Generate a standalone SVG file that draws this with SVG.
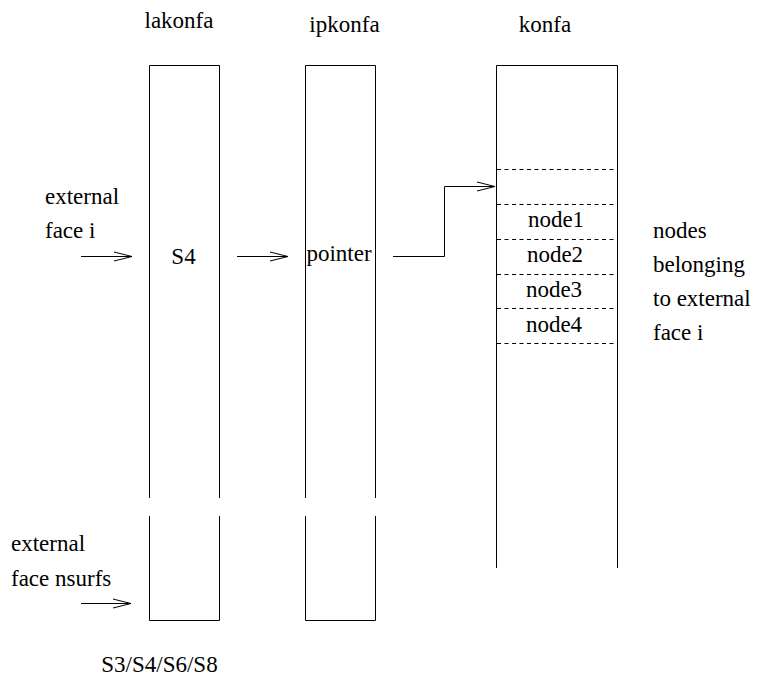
<svg xmlns="http://www.w3.org/2000/svg" width="760" height="681" viewBox="0 0 760 681">
<style>
  .col { fill: none; stroke: #000; stroke-width: 1; }
  .dash { stroke: #000; stroke-width: 1; stroke-dasharray: 4 3.5; }
  .conn { fill: none; stroke: #000; stroke-width: 1; }
</style>
<defs>
  <marker id="arr" markerUnits="userSpaceOnUse" markerWidth="24" markerHeight="14" viewBox="-20 -7 24 14" refX="0" refY="0" orient="auto">
    <path d="M-18,-4.5 L0,0 L-18,4.5" fill="none" stroke="#000" stroke-width="1"/>
  </marker>
</defs>
<rect width="760" height="681" fill="#fff"/>

<g id="lakonfa">
  <text x="179" y="28" text-anchor="middle" font-family="Liberation Serif, serif" font-size="23">lakonfa</text>
  <path class="col" d="M149.5,498 V65.5 H219.5 V498 M149.5,516 V620.5 H219.5 V516"/>
  <text x="183.5" y="264" text-anchor="middle" font-family="Liberation Serif, serif" font-size="23">S4</text>
  <text x="159.5" y="672" text-anchor="middle" font-family="Liberation Serif, serif" font-size="23">S3/S4/S6/S8</text>
</g>

<g id="ipkonfa">
  <text x="344.5" y="32" text-anchor="middle" font-family="Liberation Serif, serif" font-size="23">ipkonfa</text>
  <path class="col" d="M305.5,498 V65.5 H375.5 V498 M305.5,516 V620.5 H375.5 V516"/>
  <text x="339" y="261" text-anchor="middle" font-family="Liberation Serif, serif" font-size="23">pointer</text>
</g>

<g id="konfa">
  <text x="545" y="32" text-anchor="middle" font-family="Liberation Serif, serif" font-size="23">konfa</text>
  <path class="col" d="M496.5,568 V65.5 H617.5 V568"/>
  <line class="dash" x1="497" y1="169.5" x2="617" y2="169.5"/>
  <line class="dash" x1="497" y1="204.5" x2="617" y2="204.5"/>
  <line class="dash" x1="497" y1="239.5" x2="617" y2="239.5"/>
  <line class="dash" x1="497" y1="274.5" x2="617" y2="274.5"/>
  <line class="dash" x1="497" y1="308.5" x2="617" y2="308.5"/>
  <line class="dash" x1="497" y1="343.5" x2="617" y2="343.5"/>
  <text x="556" y="227" text-anchor="middle" font-family="Liberation Serif, serif" font-size="23">node1</text>
  <text x="555" y="262" text-anchor="middle" font-family="Liberation Serif, serif" font-size="23">node2</text>
  <text x="554" y="297" text-anchor="middle" font-family="Liberation Serif, serif" font-size="23">node3</text>
  <text x="554" y="332" text-anchor="middle" font-family="Liberation Serif, serif" font-size="23">node4</text>
</g>

<g id="label-face-i">
  <text x="45" y="204" font-family="Liberation Serif, serif" font-size="23">external</text>
  <text x="45" y="238" font-family="Liberation Serif, serif" font-size="23">face i</text>
</g>

<g id="label-face-nsurfs">
  <text x="11" y="551" font-family="Liberation Serif, serif" font-size="23">external</text>
  <text x="11" y="586" font-family="Liberation Serif, serif" font-size="23">face nsurfs</text>
</g>

<g id="label-nodes">
  <text x="653" y="238" font-family="Liberation Serif, serif" font-size="23">nodes</text>
  <text x="653" y="272" font-family="Liberation Serif, serif" font-size="23">belonging</text>
  <text x="653" y="306" font-family="Liberation Serif, serif" font-size="23">to external</text>
  <text x="653" y="340" font-family="Liberation Serif, serif" font-size="23">face i</text>
</g>

<g id="connectors">
  <line class="conn" x1="81" y1="256.5" x2="132" y2="256.5" marker-end="url(#arr)"/>
  <line class="conn" x1="237" y1="256.5" x2="288" y2="256.5" marker-end="url(#arr)"/>
  <polyline class="conn" points="393,256.5 444.5,256.5 444.5,186.5 495,186.5" marker-end="url(#arr)"/>
  <line class="conn" x1="81" y1="603.5" x2="131" y2="603.5" marker-end="url(#arr)"/>
</g>
</svg>
